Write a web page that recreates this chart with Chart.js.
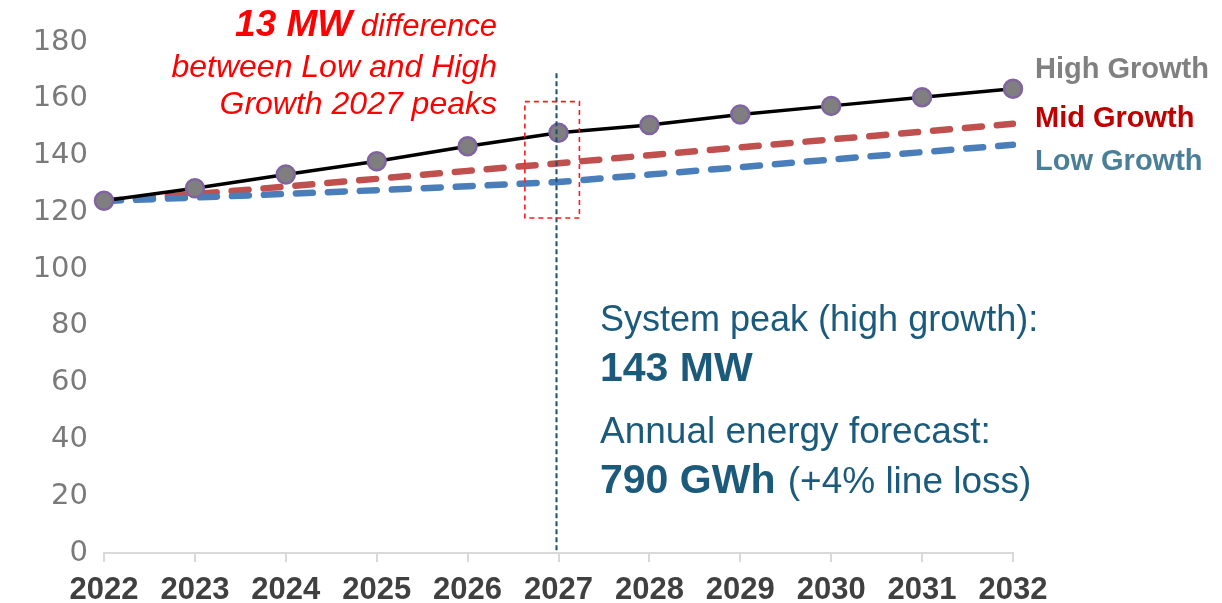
<!DOCTYPE html>
<html>
<head>
<meta charset="utf-8">
<script src="https://cdn.jsdelivr.net/npm/chart.js@4/dist/chart.umd.min.js"></script>
<style>
  html, body { margin: 0; padding: 0; background: #ffffff; }
  #wrap { width: 1222px; height: 603px; position: relative; }
</style>
</head>
<body>
<div id="wrap"><canvas id="peak" width="1222" height="603"></canvas></div>
<script>
// Peak demand forecast (MW) by scenario
const years = ['2022', '2023', '2024', '2025', '2026', '2027', '2028', '2029', '2030', '2031', '2032'];
const highGrowth = [124.1, 128.5, 133.3, 138.0, 143.3, 148.0, 150.8, 154.5, 157.5, 160.5, 163.5];
const midGrowth  = [124.0, 126.4, 129.1, 131.8, 134.6, 137.3, 140.1, 142.9, 145.7, 148.4, 151.2];
const lowGrowth  = [124.0, 125.2, 126.5, 127.8, 129.2, 130.7, 133.3, 135.9, 138.6, 141.2, 143.8];

// Highlighted year and the comparison window around it
const focusYear = '2027';
const focusLineTop = 169;
const compareBox = { fromYear: 2026.63, toYear: 2027.23, low: 118, high: 159 };

const textBlue = '#1b5a7a';

function xPixel(scale, yearValue) {
  const i = Math.floor(yearValue) - Number(years[0]);
  const a = scale.getPixelForValue(i);
  const b = scale.getPixelForValue(i + 1);
  return a + (b - a) * (yearValue - Math.floor(yearValue));
}

const overlays = {
  id: 'overlays',
  afterDatasetsDraw(chart) {
    const { ctx, scales: { x, y } } = chart;
    ctx.save();
    // vertical marker at the focus year
    const fx = x.getPixelForValue(years.indexOf(focusYear));
    ctx.strokeStyle = '#1f4e6b';
    ctx.lineWidth = 2;
    ctx.setLineDash([5, 3]);
    ctx.beginPath();
    ctx.moveTo(fx - 2, y.getPixelForValue(focusLineTop));
    ctx.lineTo(fx - 2, y.getPixelForValue(0));
    ctx.stroke();
    // comparison window
    const bx1 = xPixel(x, compareBox.fromYear);
    const bx2 = xPixel(x, compareBox.toYear);
    const by1 = y.getPixelForValue(compareBox.high);
    const by2 = y.getPixelForValue(compareBox.low);
    ctx.strokeStyle = '#ff1a1a';
    ctx.lineWidth = 1.6;
    ctx.setLineDash([5, 4]);
    ctx.strokeRect(bx1, by1, bx2 - bx1, by2 - by1);
    ctx.restore();
  },
  afterDraw(chart) {
    const { ctx } = chart;
    ctx.save();
    ctx.textBaseline = 'alphabetic';

    // red callout, right aligned
    ctx.fillStyle = '#ff0000';
    ctx.textAlign = 'right';
    ctx.font = 'italic 31px "Liberation Sans", Arial, sans-serif';
    const tail = ' difference';
    const tw = ctx.measureText(tail).width;
    ctx.fillText(tail, 497, 36);
    ctx.font = 'italic bold 37px "Liberation Sans", Arial, sans-serif';
    ctx.fillText('13 MW', 497 - tw, 36);
    ctx.font = 'italic 32px "Liberation Sans", Arial, sans-serif';
    ctx.fillText('between Low and High', 497, 77);
    ctx.fillText('Growth 2027 peaks', 497, 114);

    // series names at the line ends
    ctx.textAlign = 'left';
    ctx.font = 'bold 29px "Liberation Sans", Arial, sans-serif';
    ctx.fillStyle = '#808080';
    ctx.fillText('High Growth', 1035, 78);
    ctx.fillStyle = '#c00000';
    ctx.fillText('Mid Growth', 1035, 127);
    ctx.fillStyle = '#4b7f97';
    ctx.fillText('Low Growth', 1035, 170);

    // summary block
    ctx.fillStyle = textBlue;
    ctx.font = '36px "Liberation Sans", Arial, sans-serif';
    ctx.fillText('System peak (high growth):', 600, 331);
    ctx.font = 'bold 41px "Liberation Sans", Arial, sans-serif';
    ctx.fillText('143 MW', 600, 381);
    ctx.font = '37px "Liberation Sans", Arial, sans-serif';
    ctx.fillText('Annual energy forecast:', 600, 443);
    ctx.font = 'bold 41px "Liberation Sans", Arial, sans-serif';
    const head = '790 GWh';
    ctx.fillText(head, 600, 493);
    const hw = ctx.measureText(head).width;
    ctx.font = '37px "Liberation Sans", Arial, sans-serif';
    ctx.fillText(' (+4% line loss)', 600 + hw + 2, 493);
    ctx.restore();
  }
};

new Chart(document.getElementById('peak'), {
  type: 'line',
  data: {
    labels: years,
    datasets: [
      {
        label: 'High Growth',
        data: highGrowth,
        order: 0,
        borderColor: '#000000',
        borderWidth: 3.5,
        pointRadius: 9,
        pointBackgroundColor: '#7f7f7f',
        pointBorderColor: '#8064a2',
        pointBorderWidth: 2.5,
        tension: 0
      },
      {
        label: 'Low Growth',
        data: lowGrowth,
        order: 1,
        borderColor: '#4a7ebb',
        borderWidth: 6.5,
        borderDash: [17, 15],
        borderCapStyle: 'round',
        pointRadius: 0,
        tension: 0
      },
      {
        label: 'Mid Growth',
        data: midGrowth,
        order: 2,
        borderColor: '#c0504d',
        borderWidth: 6.5,
        borderDash: [17, 15],
        borderCapStyle: 'round',
        pointRadius: 0,
        tension: 0
      }
    ]
  },
  options: {
    responsive: false,
    devicePixelRatio: 1,
    animation: false,
    layout: { padding: { top: 42, right: 209, left: 0, bottom: 0 } },
    plugins: { legend: { display: false }, tooltip: { enabled: false } },
    scales: {
      x: {
        offset: false,
        afterFit(scale) { scale.height = 50; },
        grid: { drawOnChartArea: false, drawTicks: true, tickLength: 9, color: '#d9d9d9', lineWidth: 2 },
        border: { display: true, color: '#d9d9d9', width: 2 },
        ticks: {
          color: '#404040',
          padding: 10,
          maxRotation: 0,
          autoSkip: false,
          font: { family: '"Liberation Sans", Arial, sans-serif', size: 31, weight: 'bold' }
        }
      },
      y: {
        min: 0,
        max: 180,
        afterFit(scale) { scale.width = 104; },
        grid: { display: false, drawTicks: false },
        border: { display: false },
        ticks: {
          stepSize: 20,
          color: '#7a7a7a',
          padding: 16,
          font: { family: '"DejaVu Sans", sans-serif', size: 29 }
        }
      }
    }
  },
  plugins: [overlays]
});
</script>
</body>
</html>
